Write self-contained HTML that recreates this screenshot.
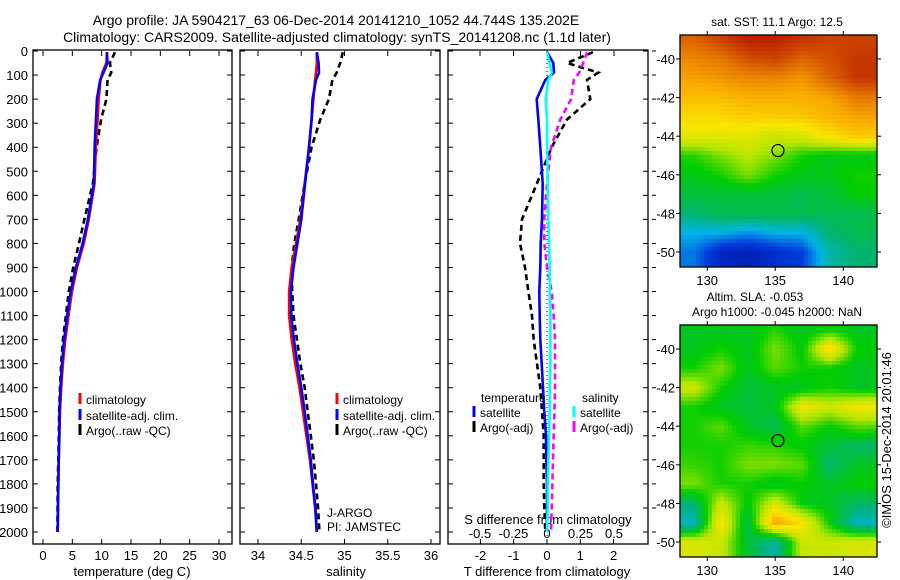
<!DOCTYPE html>
<html><head><meta charset="utf-8"><style>
body{margin:0;background:#fff}
svg{display:block;font-family:"Liberation Sans",sans-serif}
text{fill:#000}
</style></head><body>
<svg id="fig" width="900" height="580" viewBox="0 0 900 580" xmlns="http://www.w3.org/2000/svg">
<text x="336" y="25" font-size="14" text-anchor="middle">Argo profile: JA 5904217_63 06-Dec-2014 20141210_1052 44.744S 135.202E</text>
<text x="337" y="42" font-size="14" text-anchor="middle">Climatology: CARS2009. Satellite-adjusted climatology: synTS_20141208.nc (1.1d later)</text>
<g id="p1"></g>
<g id="p2"></g>
<g id="p3"></g>
<g id="m1"></g>
<g id="m2"></g>
<text transform="translate(891,440) rotate(-90)" font-size="13" text-anchor="middle">©IMOS 15-Dec-2014 20:01:46</text>
</svg>
<script>
const depths=[5,50,90,120,200,285,400,550,700,800,900,1000,1100,1200,1300,1400,1500,1600,1700,1800,1900,2000];
const climT=[10.9,10.8,10.1,9.8,9.5,9.3,9.0,8.8,7.8,6.95,5.8,4.95,4.35,3.8,3.4,3.1,2.9,2.8,2.7,2.6,2.55,2.5];
const satDiffT=[0,0.19,0.21,-0.05,-0.31,-0.26,-0.2,-0.13,-0.15,-0.19,-0.2,-0.23,-0.22,-0.2,-0.16,-0.12,-0.08,-0.03,-0.02,0,0,0];
const argoDiffT=[1.38,0.6,1.54,1.2,1.3,0.6,0.14,-0.3,-0.75,-0.81,-0.66,-0.56,-0.45,-0.4,-0.3,-0.2,-0.15,-0.1,-0.1,-0.1,-0.08,-0.05];
const climS=[34.68,34.68,34.67,34.66,34.64,34.62,34.59,34.54,34.49,34.44,34.39,34.36,34.36,34.39,34.43,34.48,34.52,34.56,34.6,34.63,34.66,34.68];
const satDiffS=[0,0.02,0.035,0.01,-0.01,0,0,0.005,0.01,0.015,0.02,0.02,0.025,0.025,0.025,0.02,0.02,0.015,0.01,0.005,0.005,0];
const argoDiffS=[0.3,0.27,0.24,0.2,0.18,0.1,0.03,0,-0.02,-0.02,0,0.035,0.05,0.06,0.06,0.06,0.055,0.05,0.045,0.04,0.035,0.03];
const depthTicks=[0,100,200,300,400,500,600,700,800,900,1000,1100,1200,1300,1400,1500,1600,1700,1800,1900,2000];
const tempTicks=[0,5,10,15,20,25,30];
const salTicks=[34,34.5,35,35.5,36];
const tdiffTicks=[-2,-1,0,1,2];
const sdiffTicks=[-0.5,-0.25,0,0.25,0.5];
const sstGrid=[
[0.85,0.9,0.95,0.95,0.92,0.9,0.9],
[0.8,0.82,0.88,0.9,0.85,0.88,0.92],
[0.76,0.78,0.8,0.8,0.78,0.85,0.92],
[0.72,0.72,0.74,0.74,0.74,0.76,0.82],
[0.67,0.67,0.69,0.69,0.7,0.73,0.76],
[0.62,0.62,0.62,0.58,0.6,0.66,0.7],
[0.47,0.52,0.56,0.52,0.46,0.43,0.43],
[0.43,0.46,0.52,0.46,0.43,0.43,0.46],
[0.4,0.4,0.4,0.4,0.38,0.4,0.45],
[0.35,0.38,0.38,0.38,0.38,0.38,0.38],
[0.25,0.25,0.22,0.25,0.25,0.35,0.38],
[0.2,0.1,0.08,0.12,0.15,0.3,0.35]];
const slaGrid=[
[0.42,0.42,0.42,0.47,0.42,0.45,0.42],
[0.42,0.46,0.42,0.52,0.44,0.68,0.45],
[0.46,0.52,0.42,0.5,0.46,0.45,0.42],
[0.58,0.46,0.4,0.42,0.42,0.46,0.42],
[0.46,0.42,0.4,0.42,0.64,0.58,0.64],
[0.46,0.5,0.42,0.38,0.5,0.45,0.5],
[0.46,0.46,0.48,0.47,0.44,0.4,0.36],
[0.48,0.46,0.52,0.52,0.5,0.35,0.42],
[0.52,0.46,0.46,0.42,0.45,0.42,0.45],
[0.35,0.58,0.44,0.6,0.44,0.42,0.36],
[0.28,0.66,0.38,0.76,0.66,0.45,0.28],
[0.6,0.58,0.4,0.3,0.58,0.58,0.6]];
const lonTicks=[130,135,140];
const latTicks=[-40,-42,-44,-46,-48,-50];
const argoLon=135.202, argoLat=-44.744;

const NS='http://www.w3.org/2000/svg';
function mk(parent,tag,attrs,txt){const e=document.createElementNS(NS,tag);for(const k in attrs)e.setAttribute(k,attrs[k]);if(txt!==undefined)e.textContent=txt;parent.appendChild(e);return e;}
const Y0=51,Y1=544;
const yD=d=>Y0+(d-0)*(532-51)/2000;

function frame(g,x0,x1,nm){
  const r=mk(g,'rect',{x:x0,y:Y0-1,width:x1-x0,height:Y1-Y0+1,fill:'none',stroke:'#000','stroke-width':1.3});
  
  
  depthTicks.forEach(d=>{
    mk(g,'line',{x1:x0,x2:x0+5,y1:yD(d),y2:yD(d),stroke:'#000'});
    mk(g,'line',{x1:x1,x2:x1-5,y1:yD(d),y2:yD(d),stroke:'#000'});
  });
}
function poly(g,xs,ds,col,dash,nm){
  const p=mk(g,'polyline',{points:xs.map((x,i)=>x.toFixed(1)+','+yD(ds[i]).toFixed(1)).join(' '),fill:'none',stroke:col,'stroke-width':2.6});
  if(dash)p.setAttribute('stroke-dasharray',dash);
  
  
}
function legendRow(g,x,y,col,label,nm){
  mk(g,'line',{x1:x,x2:x,y1:y-11,y2:y,stroke:col,'stroke-width':3});
  const t=mk(g,'text',{x:x+6,y:y,'font-size':12},label);
  
  
}

(function(){
  const g=document.getElementById('p1');const x0=33,x1=232;
  const xT=v=>43+v*(219-43)/30;
  frame(g,x0,x1,'temperature-panel');
  depthTicks.forEach(d=>{const t=mk(g,'text',{x:28,y:yD(d)+5,'font-size':13,'text-anchor':'end'},d);
    });
  tempTicks.forEach(v=>{mk(g,'line',{x1:xT(v),x2:xT(v),y1:Y1,y2:Y1-5,stroke:'#000'});mk(g,'line',{x1:xT(v),x2:xT(v),y1:Y0,y2:Y0+5,stroke:'#000'});
    const t=mk(g,'text',{x:xT(v),y:560,'font-size':13,'text-anchor':'middle'},v);
    });
  const xl=mk(g,'text',{x:132,y:576,'font-size':13,'text-anchor':'middle'},'temperature (deg C)');
  
  poly(g,depths.map((d,i)=>xT(climT[i]+argoDiffT[i])),depths,'#000','6,4','argo-temperature-line');
  poly(g,climT.map(xT),depths,'#f00',null,'climatology-temperature-line');
  poly(g,depths.map((d,i)=>xT(climT[i]+satDiffT[i])),depths,'#00f',null,'satellite-temperature-line');
  legendRow(g,80,404,'#f00','climatology','legend-climatology');
  legendRow(g,80,420,'#00f','satellite-adj. clim.','legend-satellite');
  legendRow(g,80,435,'#000','Argo(..raw -QC)','legend-argo');
})();
(function(){
  const g=document.getElementById('p2');const x0=240,x1=440;
  const xS=v=>258+(v-34)*(431-258)/2;
  frame(g,x0,x1,'salinity-panel');
  salTicks.forEach(v=>{mk(g,'line',{x1:xS(v),x2:xS(v),y1:Y1,y2:Y1-5,stroke:'#000'});mk(g,'line',{x1:xS(v),x2:xS(v),y1:Y0,y2:Y0+5,stroke:'#000'});
    const t=mk(g,'text',{x:xS(v),y:560,'font-size':13,'text-anchor':'middle'},String(v));
    });
  const xl=mk(g,'text',{x:346,y:576,'font-size':13,'text-anchor':'middle'},'salinity');
  
  poly(g,depths.map((d,i)=>xS(climS[i]+argoDiffS[i])),depths,'#000','6,4','argo-salinity-line');
  poly(g,climS.map(xS),depths,'#f00',null,'climatology-salinity-line');
  poly(g,depths.map((d,i)=>xS(climS[i]+satDiffS[i])),depths,'#00f',null,'satellite-salinity-line');
  legendRow(g,337,404,'#f00','climatology','legend-climatology-s');
  legendRow(g,337,420,'#00f','satellite-adj. clim.','legend-satellite-s');
  legendRow(g,337,435,'#000','Argo(..raw -QC)','legend-argo-s');
  const a=mk(g,'text',{x:327,y:517,'font-size':12},'J-ARGO');
  const b=mk(g,'text',{x:327,y:531,'font-size':12},'PI: JAMSTEC');
})();
(function(){
  const g=document.getElementById('p3');const x0=448,x1=648;
  const xT=v=>547+v*33.3;const xS=v=>547+v*134;
  frame(g,x0,x1,'difference-panel');
  depthTicks.forEach(d=>mk(g,'line',{x1:x1+4,x2:x1+8,y1:yD(d),y2:yD(d),stroke:'#000'}));
  mk(g,'line',{x1:547,x2:547,y1:Y0,y2:Y1,stroke:'#000','stroke-dasharray':'1,3'});
  tdiffTicks.forEach(v=>{mk(g,'line',{x1:xT(v),x2:xT(v),y1:Y1,y2:Y1-5,stroke:'#000'});
    const t=mk(g,'text',{x:xT(v),y:560,'font-size':13,'text-anchor':'middle'},v);
    });
  sdiffTicks.forEach(v=>{mk(g,'line',{x1:xS(v),x2:xS(v),y1:Y0,y2:Y0+5,stroke:'#000'});
    const t=mk(g,'text',{x:xS(v),y:538,'font-size':13,'text-anchor':'middle'},String(v));
    });
  const s=mk(g,'text',{x:548,y:524,'font-size':13,'text-anchor':'middle'},'S difference from climatology');
  
  const tl=mk(g,'text',{x:547,y:576,'font-size':13,'text-anchor':'middle'},'T difference from climatology');
  
  poly(g,argoDiffT.map(xT),depths,'#000','6,4','argo-t-diff-line');
  poly(g,argoDiffS.map(xS),depths,'#f0f','6,4','argo-s-diff-line');
  poly(g,satDiffT.map(xT),depths,'#00f',null,'satellite-t-diff-line');
  poly(g,satDiffS.map(xS),depths,'#0ff',null,'satellite-s-diff-line');
  const a=mk(g,'text',{x:481,y:402,'font-size':12},'temperature');
  const b=mk(g,'text',{x:582,y:402,'font-size':12},'salinity');
  legendRow(g,474,417,'#00f','satellite','legend-t-satellite');
  legendRow(g,474,432,'#000','Argo(-adj)','legend-t-argo');
  legendRow(g,574,417,'#0ff','satellite','legend-s-satellite');
  legendRow(g,574,432,'#f0f','Argo(-adj)','legend-s-argo');
})();
const cstops=[[0,[0,0,140]],[0.15,[0,60,220]],[0.25,[0,180,230]],[0.35,[0,180,110]],[0.45,[0,205,0]],[0.55,[180,230,0]],[0.65,[250,230,0]],[0.75,[250,170,0]],[0.85,[220,100,0]],[1,[170,0,0]]];
function cmap(v){v=Math.max(0,Math.min(1,v));for(let i=1;i<cstops.length;i++){if(v<=cstops[i][0]){const a=cstops[i-1],b=cstops[i],f=(v-a[0])/(b[0]-a[0]);return 'rgb('+a[1].map((c,k)=>Math.round(c+(b[1][k]-c)*f)).join(',')+')';}}return 'rgb(170,0,0)';}
function sample(grid,r,c){const R=grid.length-1,C=grid[0].length-1;r=Math.max(0,Math.min(R,r));c=Math.max(0,Math.min(C,c));
  const r0=Math.floor(r),c0=Math.floor(c),r1=Math.min(R,r0+1),c1=Math.min(C,c0+1),fr=r-r0,fc=c-c0;
  return grid[r0][c0]*(1-fr)*(1-fc)+grid[r0][c1]*(1-fr)*fc+grid[r1][c0]*fr*(1-fc)+grid[r1][c1]*fr*fc;}
function map(id,grid,top,bot,lat40,lat50,cell,nm){
  const g=document.getElementById(id);const x0=680,x1=877;
  const xL=l=>680+(l-128)*13.6;const yL=la=>lat40+(-40-la)*(lat50-lat40)/10;
  for(let y=top;y<bot;y+=cell){for(let x=x0;x<x1;x+=cell){
    const la=-40-(y+cell/2-lat40)/((lat50-lat40)/10);const lo=128+(x+cell/2-680)/13.6;
    const v=sample(grid,(-39-la),(lo-129)/2);
    mk(g,'rect',{x:x,y:y,width:Math.min(cell,x1-x)+0.3,height:Math.min(cell,bot-y)+0.3,fill:cmap(v)});
  }}
  const fr=mk(g,'rect',{x:x0,y:top,width:x1-x0,height:bot-top,fill:'none',stroke:'#000','stroke-width':1.3});
  
  lonTicks.forEach(l=>{mk(g,'line',{x1:xL(l),x2:xL(l),y1:top,y2:top-4,stroke:'#000'});mk(g,'line',{x1:xL(l),x2:xL(l),y1:bot,y2:bot+4,stroke:'#000'});
    const t=mk(g,'text',{x:xL(l),y:bot+18,'font-size':13,'text-anchor':'middle'},l);
    });
  latTicks.forEach(l=>{mk(g,'line',{x1:x0,x2:x0-4,y1:yL(l),y2:yL(l),stroke:'#000'});mk(g,'line',{x1:x1,x2:x1+4,y1:yL(l),y2:yL(l),stroke:'#000'});
    const t=mk(g,'text',{x:675,y:yL(l)+5,'font-size':13,'text-anchor':'end'},l);
    });
  const c=mk(g,'circle',{cx:xL(argoLon),cy:yL(argoLat),r:6,fill:'none',stroke:'#000','stroke-width':1.2});
  
}
map('m1',sstGrid,35,267,59,252,4,'sst-map');
map('m2',slaGrid,325,557,349,542,4,'sla-map');
(function(){const g=document.getElementById('m1');
  const t=mk(g,'text',{x:777,y:26,'font-size':12,'text-anchor':'middle'},'sat. SST: 11.1 Argo: 12.5');
  const a=mk(g,'text',{x:755,y:301,'font-size':12,'text-anchor':'middle'},'Altim. SLA: -0.053');
  const b=mk(g,'text',{x:777,y:316,'font-size':12,'text-anchor':'middle'},'Argo h1000: -0.045 h2000: NaN');
})();
</script>
</body></html>
